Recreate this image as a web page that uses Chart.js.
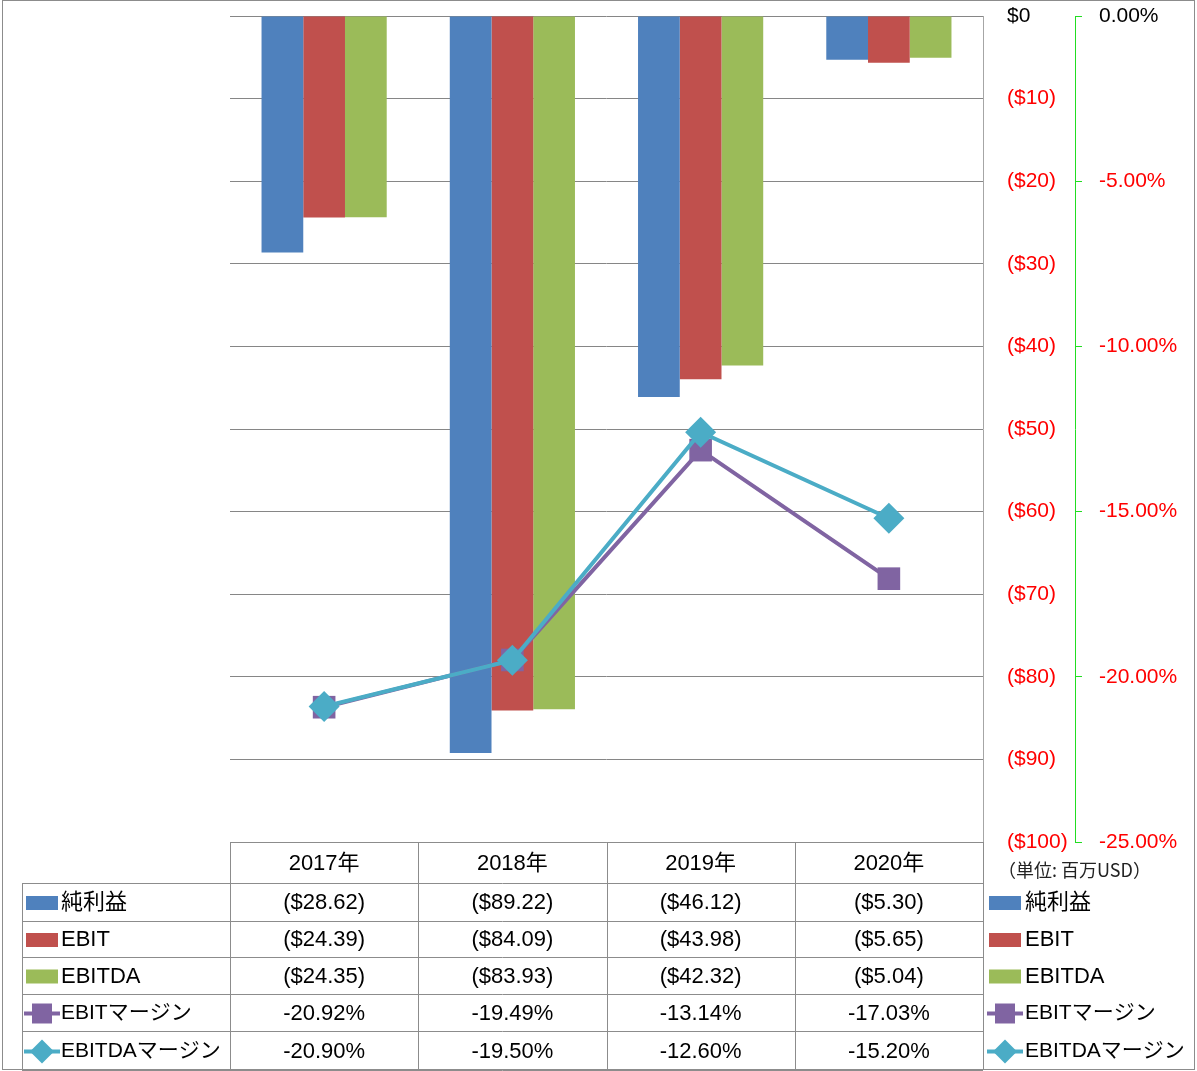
<!DOCTYPE html>
<html>
<head>
<meta charset="utf-8">
<script src="https://cdn.jsdelivr.net/npm/chart.js@4.4.1/dist/chart.umd.min.js"></script>
<style>
  html, body { margin: 0; padding: 0; background: #fff; }
  canvas { display: block; }
</style>
</head>
<body>
<canvas id="chart" width="1197" height="1071"></canvas>
<script>
const years = ['2017年', '2018年', '2019年', '2020年'];
const netIncome = [-28.62, -89.22, -46.12, -5.30];
const ebit = [-24.39, -84.09, -43.98, -5.65];
const ebitda = [-24.35, -83.93, -42.32, -5.04];
const ebitMargin = [-20.92, -19.49, -13.14, -17.03];
const ebitdaMargin = [-20.90, -19.50, -12.60, -15.20];
const unitNote = '（単位: 百万USD）';

const FONT = "'Liberation Sans', 'Noto Sans CJK JP', sans-serif";
const GRID = '#868686';
const RED = '#FF0000';

function money(v) {
    return '($' + Math.abs(v).toFixed(2) + ')';
}
function pct(v) {
    return v.toFixed(2) + '%';
}

// legend swatch: box for bars, line + marker for lines
function drawKey(ctx, ds, x, y) {
    ctx.save();
    ctx.fillStyle = ds.backgroundColor;
    if (ds.type !== 'line') {
        ctx.fillRect(x + 2, y - 7, 32, 14);
    } else {
        ctx.strokeStyle = ds.borderColor;
        ctx.lineWidth = 4;
        ctx.beginPath();
        ctx.moveTo(x, y);
        ctx.lineTo(x + 36, y);
        ctx.stroke();
        const cx = x + 18;
        ctx.beginPath();
        if (ds.pointStyle === 'rect') {
            ctx.rect(cx - 10, y - 10, 20, 20);
        } else {
            ctx.moveTo(cx, y - 12);
            ctx.lineTo(cx + 12, y);
            ctx.lineTo(cx, y + 12);
            ctx.lineTo(cx - 12, y);
            ctx.closePath();
        }
        ctx.fill();
    }
    ctx.restore();
}

const dataTable = {
    id: 'dataTable',
    afterDraw(chart) {
        const ctx = chart.ctx;
        const xs = chart.scales.x;
        const colW = (xs.right - xs.left) / years.length;
        const rowY = [842, 883, 921, 957, 994, 1031, 1070];
        const rows = [
            { ds: chart.data.datasets[0], fmt: money },
            { ds: chart.data.datasets[1], fmt: money },
            { ds: chart.data.datasets[2], fmt: money },
            { ds: chart.data.datasets[3], fmt: pct },
            { ds: chart.data.datasets[4], fmt: pct }
        ];
        ctx.save();
        ctx.strokeStyle = '#8c8c8c';
        ctx.lineWidth = 1;
        ctx.strokeRect(2.5, 0.5, 1192, 1069);

        // table grid
        ctx.beginPath();
        ctx.moveTo(xs.left, rowY[0] + 0.5);
        ctx.lineTo(xs.right, rowY[0] + 0.5);
        for (let r = 1; r < rowY.length; r++) {
            ctx.moveTo(22, rowY[r] + 0.5);
            ctx.lineTo(xs.right, rowY[r] + 0.5);
        }
        for (let c = 0; c <= years.length; c++) {
            const x = Math.round(xs.left + c * colW) + 0.5;
            ctx.moveTo(x, rowY[0]);
            ctx.lineTo(x, rowY[rowY.length - 1]);
        }
        ctx.moveTo(22.5, rowY[1]);
        ctx.lineTo(22.5, rowY[rowY.length - 1]);
        ctx.stroke();

        ctx.fillStyle = '#000';
        ctx.textBaseline = 'middle';
        ctx.textAlign = 'center';
        ctx.font = '22px ' + FONT;
        years.forEach((y, i) => {
            ctx.fillText(y, xs.getPixelForValue(i), (rowY[0] + rowY[1]) / 2 + 1);
        });
        rows.forEach((row, r) => {
            const cy = (rowY[r + 1] + rowY[r + 2]) / 2 + 1;
            ctx.textAlign = 'center';
            ctx.fillStyle = '#000';
            ctx.font = '22px ' + FONT;
            row.ds.data.forEach((v, i) => {
                ctx.fillText(row.fmt(v), xs.getPixelForValue(i), cy);
            });
            // left legend inside table, right legend outside
            drawKey(ctx, row.ds, 24, cy);
            drawKey(ctx, row.ds, 987, cy);
            ctx.textAlign = 'left';
            ctx.fillStyle = '#000';
            ctx.font = (row.ds.type === 'line' ? '21px ' : '22px ') + FONT;
            ctx.fillText(row.ds.label, 61, cy);
            ctx.fillText(row.ds.label, 1025, cy);
        });

        ctx.font = "18px 'Noto Sans CJK JP', sans-serif";
        ctx.textAlign = 'left';
        ctx.fillStyle = '#222';
        ctx.fillText(unitNote, 998, 870);
        ctx.restore();
    }
};

Chart.defaults.font.family = FONT;

const chart = new Chart(document.getElementById('chart'), {
    data: {
        labels: years,
        datasets: [
            { type: 'bar', label: '純利益', data: netIncome, backgroundColor: '#4F81BD', yAxisID: 'y', order: 3 },
            { type: 'bar', label: 'EBIT', data: ebit, backgroundColor: '#C0504D', yAxisID: 'y', order: 3 },
            { type: 'bar', label: 'EBITDA', data: ebitda, backgroundColor: '#9BBB59', yAxisID: 'y', order: 3 },
            {
                type: 'line', label: 'EBITマージン', data: ebitMargin, yAxisID: 'y2', order: 2,
                borderColor: '#8064A2', backgroundColor: '#8064A2', borderWidth: 4,
                pointStyle: 'rect', pointRadius: 16, pointBorderWidth: 0, tension: 0
            },
            {
                type: 'line', label: 'EBITDAマージン', data: ebitdaMargin, yAxisID: 'y2', order: 1,
                borderColor: '#4BACC6', backgroundColor: '#4BACC6', borderWidth: 4,
                pointStyle: 'rectRot', pointRadius: 15.5, pointBorderWidth: 0, tension: 0
            }
        ]
    },
    options: {
        responsive: false,
        animation: false,
        layout: { padding: { left: 230, top: 15, right: 0, bottom: 229 } },
        datasets: {
            bar: { barPercentage: 1, categoryPercentage: 0.665 }
        },
        scales: {
            x: { display: false, offset: true, grid: { display: false } },
            y: {
                position: 'right',
                min: -100,
                max: 0,
                afterFit: (s) => { s.width = 92; s.paddingTop = 0; s.paddingBottom = 0; },
                grid: { color: GRID, drawTicks: false },
                border: { display: true, color: '#a6a6a6' },
                ticks: {
                    stepSize: 10,
                    padding: 24,
                    font: { size: 21 },
                    color: (c) => c.tick.value < 0 ? RED : '#000',
                    callback: (v) => v === 0 ? '$0' : '($' + Math.abs(v) + ')'
                }
            },
            y2: {
                position: 'right',
                min: -25,
                max: 0,
                afterFit: (s) => { s.width = 122; s.paddingTop = 0; s.paddingBottom = 0; },
                grid: { drawOnChartArea: false, drawTicks: true, tickLength: 7, tickColor: '#22dd22', tickWidth: 1 },
                border: { display: true, color: '#22dd22', dash: [4, 3], width: 1 },
                ticks: {
                    stepSize: 5,
                    padding: 17,
                    font: { size: 21 },
                    color: (c) => c.tick.value < 0 ? RED : '#000',
                    callback: (v) => v === 0 ? '0.00%' : v.toFixed(2) + '%'
                }
            }
        },
        plugins: {
            legend: { display: false },
            tooltip: { enabled: false }
        }
    },
    plugins: [dataTable]
});
</script>
</body>
</html>
